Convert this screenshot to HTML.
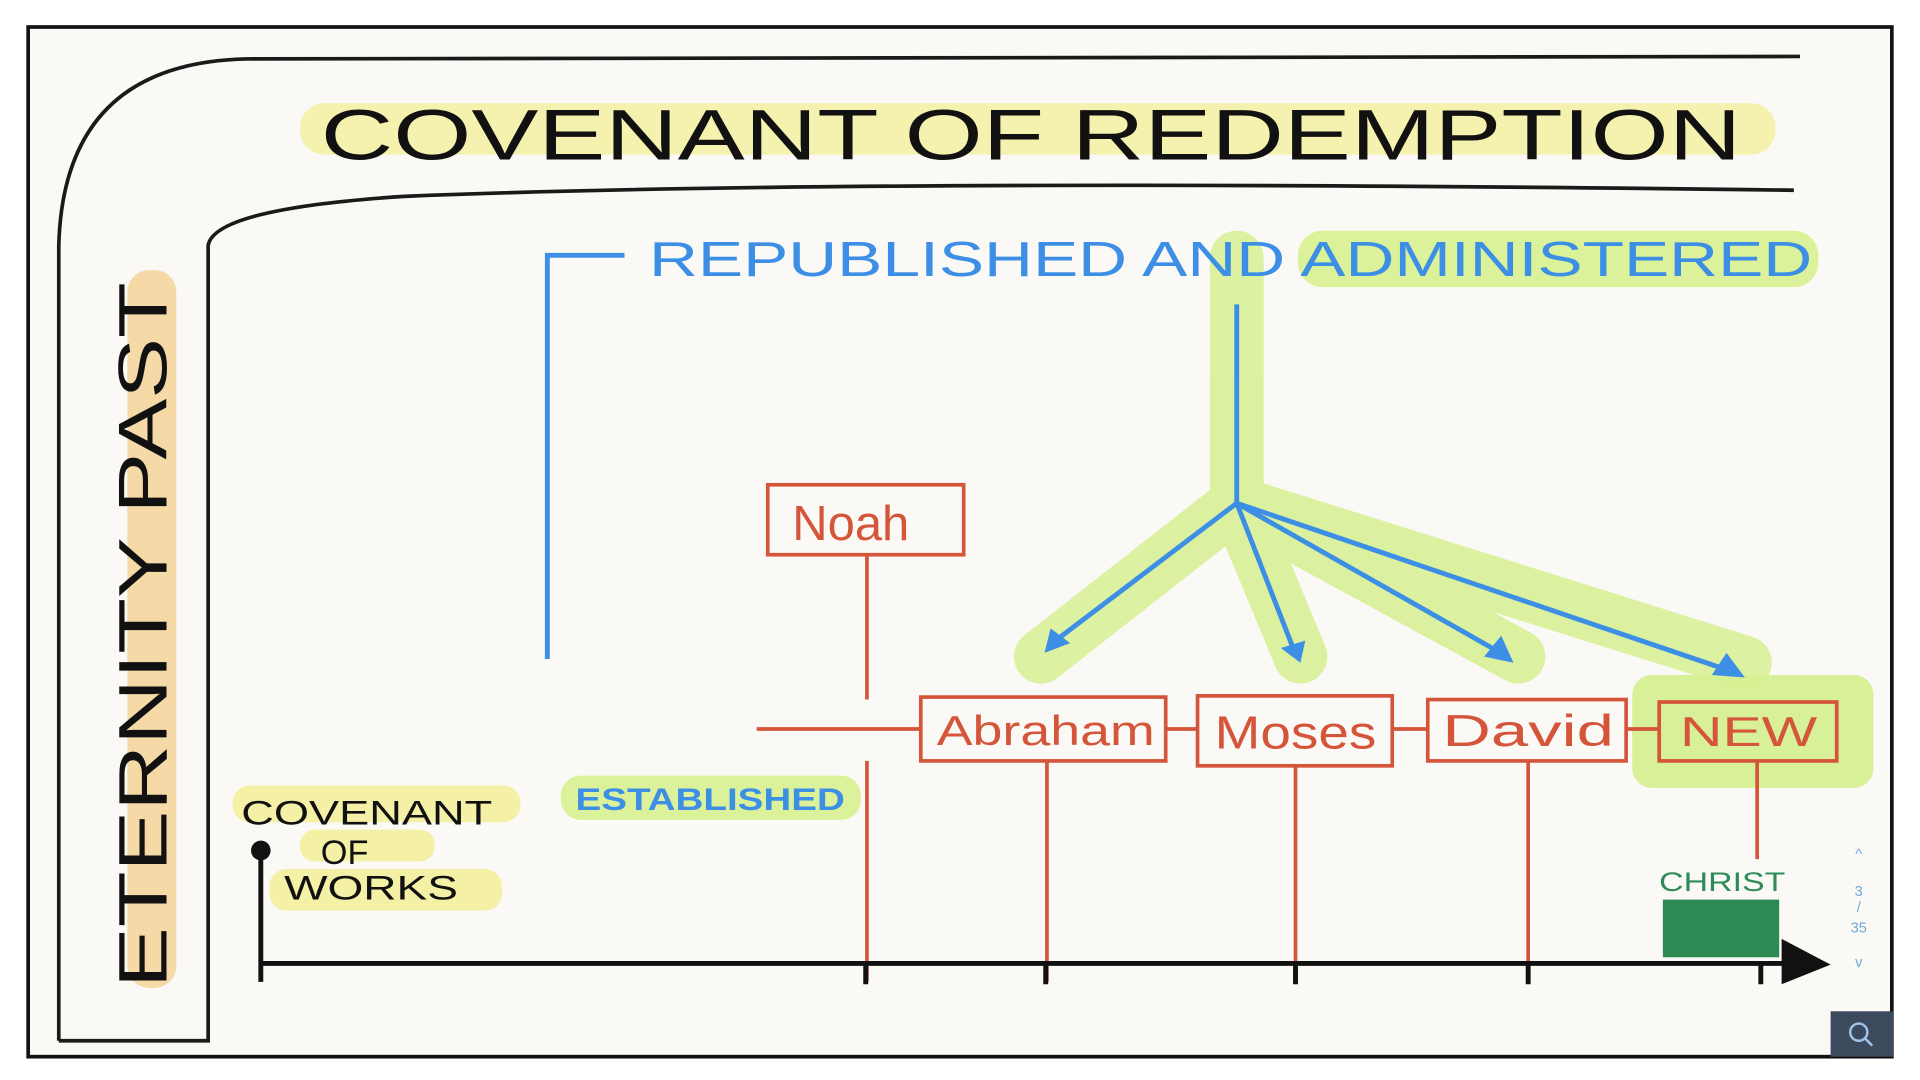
<!DOCTYPE html>
<html><head><meta charset="utf-8"><style>
html,body{margin:0;padding:0;background:#fff;}
svg{display:block;}
text{font-family:"Liberation Sans",sans-serif;}
</style></head><body>
<svg width="1920" height="1080" viewBox="0 0 1568 880" preserveAspectRatio="none" xmlns="http://www.w3.org/2000/svg">
<rect x="0" y="0" width="1568" height="880" fill="#fff"/>
<rect x="23" y="22" width="1522" height="839" fill="#fbf9f5" stroke="#111" stroke-width="3"/>
<!-- highlights -->
<rect x="245" y="84" width="1205" height="42" rx="20" fill="#f4f0a6" opacity="0.9"/>
<rect x="104" y="220" width="40" height="585" rx="18" fill="#f5d9a6"/>
<rect x="1060" y="188" width="425" height="46" rx="20" fill="#dcf29a"/>
<rect x="190" y="640" width="235" height="30" rx="14" fill="#f4f0a6"/>
<rect x="245" y="676" width="110" height="26" rx="12" fill="#f4f0a6"/>
<rect x="220" y="708" width="190" height="34" rx="14" fill="#f4f0a6"/>
<rect x="458" y="632" width="245" height="36" rx="16" fill="#dcf29a"/>
<rect x="1333" y="550" width="197" height="92" rx="16" fill="#d8f098"/>
<!-- green branch highlight -->
<g stroke="#d6f092" stroke-width="44" stroke-linecap="round" fill="none" opacity="0.85">
<path d="M1010 210 L1010 405"/>
<path d="M1010 410 L850 535"/>
<path d="M1010 410 L1062 535"/>
<path d="M1010 410 L1240 535"/>
<path d="M1010 410 L1425 540"/>
</g>
<!-- frame curves -->
<path d="M48 848 L48 200 Q52 52 200 48 L1470 46" fill="none" stroke="#1a1a1a" stroke-width="3"/>
<path d="M48 848 L170 848 L170 200 Q175 170 330 160 Q700 145 1465 155" fill="none" stroke="#1a1a1a" stroke-width="3"/>
<!-- title -->
<text x="262" y="130" font-size="58" fill="#111" textLength="1160" lengthAdjust="spacingAndGlyphs">COVENANT OF REDEMPTION</text>
<text transform="translate(136,805) rotate(-90)" font-size="56" fill="#111" textLength="575" lengthAdjust="spacingAndGlyphs">ETERNITY PAST</text>
<!-- blue -->
<path d="M447 537 L447 208 L510 208" fill="none" stroke="#3d8fe6" stroke-width="4"/>
<text x="530" y="225" font-size="40" fill="#3d8fe6" textLength="950" lengthAdjust="spacingAndGlyphs">REPUBLISHED AND ADMINISTERED</text>
<g stroke="#3d8fe6" stroke-width="4" fill="none">
<path d="M1010 248 L1010 410"/>
<path d="M1010 410 L862 522"/>
<path d="M1010 410 L1056 528"/>
<path d="M1010 410 L1222 530"/>
<path d="M1010 410 L1408 545"/>
</g>
<g fill="#3d8fe6">
<polygon points="853,532 858,512 874,524"/>
<polygon points="1062,540 1046,528 1066,522"/>
<polygon points="1236,540 1212,535 1226,518"/>
<polygon points="1425,552 1398,550 1410,532"/>
</g>
<text x="470" y="660" font-size="26" font-weight="bold" fill="#3d8fe6" textLength="220" lengthAdjust="spacingAndGlyphs">ESTABLISHED</text>
<!-- red -->
<g stroke="#d4553a" stroke-width="3" fill="none">
<rect x="627" y="395" width="160" height="57"/>
<path d="M708 452 L708 570 M708 620 L708 800"/>
<path d="M618 594 L752 594"/>
<rect x="752" y="568" width="200" height="52"/>
<rect x="978" y="567" width="159" height="57"/>
<rect x="1166" y="570" width="162" height="50"/>
<rect x="1355" y="572" width="145" height="48"/>
<path d="M952 594 L978 594 M1137 594 L1166 594 M1328 594 L1355 594"/>
<path d="M855 620 L855 800 M1058 624 L1058 800 M1248 620 L1248 800 M1435 620 L1435 700"/>
</g>
<g fill="#d4553a" font-family="Liberation Sans,sans-serif">
<text x="647" y="440" font-size="40">Noah</text>
<text x="765" y="607" font-size="34" textLength="178" lengthAdjust="spacingAndGlyphs">Abraham</text>
<text x="992" y="610" font-size="38" textLength="132" lengthAdjust="spacingAndGlyphs">Moses</text>
<text x="1178" y="608" font-size="36" textLength="140" lengthAdjust="spacingAndGlyphs">David</text>
<text x="1372" y="608" font-size="34" textLength="112" lengthAdjust="spacingAndGlyphs">NEW</text>
</g>
<!-- timeline -->
<g stroke="#111" stroke-width="4" fill="none">
<path d="M213 693 L213 800 M213 785 L1460 785"/>
<path d="M707 785 L707 802 M854 785 L854 802 M1058 785 L1058 802 M1248 785 L1248 802 M1438 785 L1438 802"/>
</g>
<circle cx="213" cy="693" r="8" fill="#111"/>
<polygon points="1455,765 1495,786 1455,802" fill="#111"/>
<g fill="#111" font-size="28">
<text x="197" y="672" textLength="205" lengthAdjust="spacingAndGlyphs">COVENANT</text>
<text x="262" y="704">OF</text>
<text x="232" y="733" textLength="142" lengthAdjust="spacingAndGlyphs">WORKS</text>
</g>
<text x="1355" y="726" font-size="22" fill="#2e8b57" textLength="103" lengthAdjust="spacingAndGlyphs">CHRIST</text>
<rect x="1358" y="733" width="95" height="47" fill="#2e8a55"/>
<!-- nav -->
<g fill="#6fa8dc" font-size="12" text-anchor="middle">
<text x="1518" y="700">^</text>
<text x="1518" y="730">3</text>
<text x="1518" y="743">/</text>
<text x="1518" y="760">35</text>
<text x="1518" y="788">v</text>
</g>
<rect x="1495" y="824" width="51" height="37" fill="#3b4a5c"/>
<circle cx="1518" cy="841" r="7" fill="none" stroke="#9fc4e8" stroke-width="2"/>
<path d="M1523 846 L1529 852" stroke="#9fc4e8" stroke-width="2"/>
</svg>
</body></html>
